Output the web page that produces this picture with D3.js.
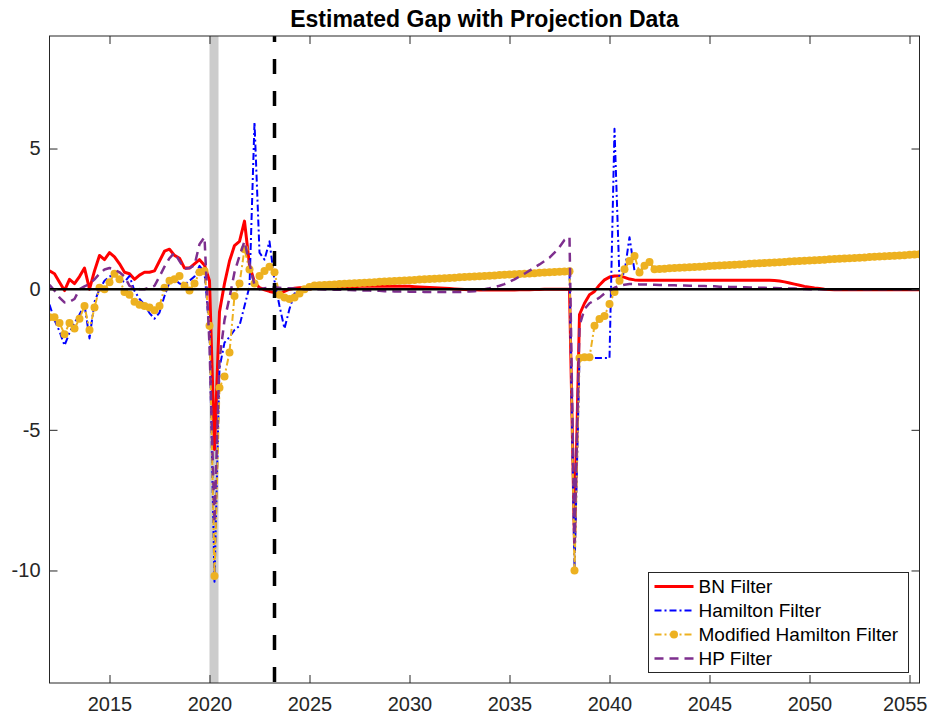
<!DOCTYPE html>
<html>
<head>
<meta charset="utf-8">
<script src="https://cdnjs.cloudflare.com/ajax/libs/d3/7.8.5/d3.min.js"></script>
<style>
  body { margin: 0; background: #fff; }
  svg { display: block; font-family: "Liberation Sans", Arial, sans-serif; }
</style>
</head>
<body>
<svg id="chart" width="929" height="714"></svg>
<script>
// quarterly series, first quarter = 2012Q1
const startYear = 2012;

const bnFilter = [
  0.65, 0.55, 0.25, -0.05, 0.35, 0.2, 0.45, 0.75, 0.0, 0.65,
  1.2, 1.05, 1.3, 1.15, 0.9, 0.6, 0.55, 0.35, 0.5, 0.6,
  0.6, 0.65, 1.0, 1.35, 1.42, 1.2, 1.1, 0.75, 0.75, 0.9,
  1.05, 0.85, 0.3, -5.7, -0.8, 0.2, 1.0, 1.55, 1.7, 2.42,
  0.85, 0.24, 0.05, -0.02, -0.08, -0.12, -0.15, -0.08, 0.0, 0.03,
  0.05, 0.05, 0.06, 0.06, 0.07, 0.07, 0.08, 0.08, 0.08, 0.09,
  0.09, 0.09, 0.1, 0.1, 0.1, 0.1, 0.1, 0.1, 0.1, 0.1,
  0.1, 0.1, 0.1, 0.09, 0.08, 0.07, 0.06, 0.05, 0.04, 0.03,
  0.02, 0.01, 0.0, -0.01, -0.02, -0.02, -0.03, -0.03, -0.03, -0.03,
  -0.03, -0.03, -0.03, -0.03, -0.02, -0.02, -0.02, -0.01, -0.01, 0.0,
  0.0, 0.0, 0.0, 0.0, 0.0, -9.0, -0.9, -0.5, -0.2, -0.08,
  0.15, 0.33, 0.43, 0.47, 0.47, 0.42, 0.36, 0.33, 0.32, 0.32,
  0.32, 0.32, 0.32, 0.32, 0.32, 0.32, 0.32, 0.32, 0.32, 0.32,
  0.32, 0.32, 0.32, 0.32, 0.32, 0.32, 0.32, 0.32, 0.32, 0.32,
  0.32, 0.32, 0.32, 0.32, 0.32, 0.31, 0.29, 0.26, 0.22, 0.18,
  0.14, 0.1, 0.07, 0.04, 0.02, 0.0, -0.01, -0.02, -0.02, -0.02,
  -0.02, -0.02, -0.02, -0.02, -0.02, -0.02, -0.02, -0.02, -0.02, -0.02,
  -0.02, -0.02, -0.02, -0.02, -0.02
];

const hamilton = [
  -0.55, -1.1, -1.5, -2.0, -1.55, -1.2, -0.9, -0.55, -1.75, -0.45,
  0.0, 0.3, 0.45, 0.5, 0.35, 0.25, 0.47, -0.06, -0.35, -0.55,
  -0.85, -1.05, -0.83, -0.24, 0.24, 0.35, 0.2, 0.15, 0.3, 0.45,
  0.83, 0.6, -1.5, -10.4, -2.8, -1.9, -1.7, -1.45, -1.3, -0.6,
  0.1, 5.93, 1.3, 1.05, 1.7, 0.3, -0.6, -1.4, -0.7, -0.15,
  -0.1, 0.0, 0.08, 0.13, 0.14, 0.15, 0.16, 0.17, 0.18, 0.19,
  0.2, 0.21, 0.22, 0.23, 0.24, 0.25, 0.26, 0.27, 0.28, 0.29,
  0.3, 0.31, 0.32, 0.33, 0.34, 0.35, 0.36, 0.37, 0.38, 0.39,
  0.4, 0.41, 0.42, 0.43, 0.44, 0.45, 0.46, 0.47, 0.48, 0.49,
  0.5, 0.51, 0.52, 0.53, 0.54, 0.55, 0.56, 0.57, 0.58, 0.59,
  0.6, 0.61, 0.62, 0.63, 0.64, -10.0, -2.45, -2.45, -2.45, -2.45,
  -2.45, -2.45, -2.45, 5.7, 0.35, 0.6, 1.85, 0.65, 0.59, 0.83,
  0.97, 0.71, 0.72, 0.73, 0.74, 0.75, 0.76, 0.77, 0.78, 0.79,
  0.8, 0.81, 0.82, 0.83, 0.84, 0.85, 0.86, 0.87, 0.88, 0.89,
  0.9, 0.91, 0.92, 0.93, 0.94, 0.95, 0.96, 0.97, 0.98, 0.99,
  1.0, 1.01, 1.02, 1.03, 1.04, 1.05, 1.06, 1.07, 1.08, 1.09,
  1.1, 1.11, 1.12, 1.13, 1.14, 1.15, 1.16, 1.17, 1.18, 1.19,
  1.2, 1.21, 1.22, 1.23, 1.24
];

const modHamilton = [
  -1.0, -1.0, -1.2, -1.6, -1.2, -1.4, -1.05, -0.6, -1.45, -0.65,
  0.05, 0.0, 0.25, 0.55, 0.35, -0.1, -0.2, -0.45, -0.55, -0.6,
  -0.65, -0.75, -0.6, 0.05, 0.3, 0.35, 0.47, 0.12, -0.05, 0.2,
  0.6, 0.65, -1.3, -10.2, -3.5, -3.1, -2.25, -0.24, 0.2, 1.42,
  0.7, 0.2, 0.47, 0.65, 0.8, 0.6, -0.2, -0.3, -0.35, -0.3,
  -0.15, 0.0, 0.08, 0.13, 0.14, 0.15, 0.16, 0.17, 0.18, 0.19,
  0.2, 0.21, 0.22, 0.23, 0.24, 0.25, 0.26, 0.27, 0.28, 0.29,
  0.3, 0.31, 0.32, 0.33, 0.34, 0.35, 0.36, 0.37, 0.38, 0.39,
  0.4, 0.41, 0.42, 0.43, 0.44, 0.45, 0.46, 0.47, 0.48, 0.49,
  0.5, 0.51, 0.52, 0.53, 0.54, 0.55, 0.56, 0.57, 0.58, 0.59,
  0.6, 0.61, 0.62, 0.63, 0.64, -10.0, -2.45, -2.42, -2.42, -1.3,
  -1.06, -0.95, -0.53, -0.1, 0.3, 0.71, 1.0, 1.18, 0.59, 0.83,
  0.97, 0.71, 0.72, 0.73, 0.74, 0.75, 0.76, 0.77, 0.78, 0.79,
  0.8, 0.81, 0.82, 0.83, 0.84, 0.85, 0.86, 0.87, 0.88, 0.89,
  0.9, 0.91, 0.92, 0.93, 0.94, 0.95, 0.96, 0.97, 0.98, 0.99,
  1.0, 1.01, 1.02, 1.03, 1.04, 1.05, 1.06, 1.07, 1.08, 1.09,
  1.1, 1.11, 1.12, 1.13, 1.14, 1.15, 1.16, 1.17, 1.18, 1.19,
  1.2, 1.21, 1.22, 1.23, 1.24
];

const hpFilter = [
  0.15, -0.05, -0.3, -0.47, -0.45, -0.35, 0.0, 0.1, 0.18, 0.35,
  0.55, 0.7, 0.75, 0.7, 0.6, 0.45, 0.12, 0.05, 0.0, 0.0,
  0.05, 0.12, 0.45, 0.8, 1.1, 1.3, 1.0, 0.72, 0.75, 0.85,
  1.6, 1.85, -2.0, -8.3, -2.5, -1.1, -0.3, 0.6, 1.18, 1.7,
  0.9, 0.15, 0.0, 0.03, 0.06, 0.06, 0.05, 0.04, 0.03, 0.02,
  0.01, 0.0, 0.0, 0.0, 0.0, -0.01, -0.01, -0.02, -0.02, -0.03,
  -0.03, -0.04, -0.04, -0.05, -0.05, -0.06, -0.06, -0.07, -0.07, -0.08,
  -0.08, -0.08, -0.09, -0.09, -0.09, -0.1, -0.1, -0.1, -0.1, -0.1,
  -0.1, -0.1, -0.1, -0.09, -0.08, -0.07, -0.05, 0.0, 0.03, 0.07,
  0.12, 0.18, 0.26, 0.35, 0.45, 0.55, 0.66, 0.77, 0.88, 1.0,
  1.12, 1.3, 1.5, 1.75, 1.85, -9.0, -1.3, -0.7, -0.5, -0.4,
  -0.3, -0.15, -0.05, 0.05, 0.12, 0.16, 0.18, 0.18, 0.17, 0.17,
  0.16, 0.16, 0.15, 0.15, 0.14, 0.14, 0.13, 0.13, 0.12, 0.12,
  0.11, 0.11, 0.1, 0.1, 0.09, 0.09, 0.08, 0.08, 0.07, 0.07,
  0.06, 0.06, 0.05, 0.05, 0.04, 0.04, 0.03, 0.03, 0.02, 0.02,
  0.01, 0.01, 0.0, 0.0, 0.0, 0.0, 0.0, 0.0, 0.0, 0.0,
  0.0, 0.0, 0.0, 0.0, 0.0, 0.0, 0.0, 0.0, 0.0, 0.0,
  0.0, 0.0, 0.0, 0.0, 0.0
];

const xTicks = [2015, 2020, 2025, 2030, 2035, 2040, 2045, 2050, 2055];
const yTicks = [5, 0, -5, -10];
const recession = [2020.0, 2020.45];
const projectionStart = 2023.25;

const seriesNames = ["BN Filter", "Hamilton Filter", "Modified Hamilton Filter", "HP Filter"];

const W = 929, H = 714;
const m = { left: 49.5, right: 9.5, top: 36, bottom: 31 };

const svg = d3.select("#chart");

const x = d3.scaleLinear().domain([2012, 2055.5]).range([m.left, W - m.right]);
const y = d3.scaleLinear().domain([-14, 9]).range([H - m.bottom, m.top]);

svg.append("defs").append("clipPath").attr("id", "plotclip")
  .append("rect")
  .attr("x", x.range()[0]).attr("y", m.top)
  .attr("width", x.range()[1] - x.range()[0])
  .attr("height", H - m.bottom - m.top);

const plot = svg.append("g").attr("clip-path", "url(#plotclip)");

// recession shading
plot.append("rect")
  .attr("x", x(recession[0])).attr("y", m.top)
  .attr("width", x(recession[1]) - x(recession[0]))
  .attr("height", H - m.bottom - m.top)
  .attr("fill", "#cccccc");

const toPts = arr => arr.map((v, i) => [startYear + i / 4, v]);
const line = d3.line().x(d => x(d[0])).y(d => y(d[1]));

const styles = [
  { data: bnFilter, color: "#ff0000", width: 3, dash: null },
  { data: hamilton, color: "#0000ff", width: 2, dash: "7,3,2,3" },
  { data: modHamilton, color: "#EDB120", width: 2, dash: "7,3,2,3", marker: true },
  { data: hpFilter, color: "#7E2F8E", width: 2.5, dash: "9,6" }
];

styles.forEach(s => {
  const pts = toPts(s.data);
  plot.append("path")
    .attr("d", line(pts))
    .attr("fill", "none")
    .attr("stroke", s.color)
    .attr("stroke-width", s.width)
    .attr("stroke-dasharray", s.dash)
    .attr("stroke-linejoin", "round");
  if (s.marker) {
    plot.append("g").selectAll("circle").data(pts).enter()
      .append("circle")
      .attr("cx", d => x(d[0])).attr("cy", d => y(d[1]))
      .attr("r", 4).attr("fill", s.color);
  }
});

// zero line
plot.append("line")
  .attr("x1", x.range()[0]).attr("x2", x.range()[1])
  .attr("y1", y(0)).attr("y2", y(0))
  .attr("stroke", "#000").attr("stroke-width", 2.5);

// projection start
plot.append("line")
  .attr("x1", x(projectionStart)).attr("x2", x(projectionStart))
  .attr("y1", m.top).attr("y2", H - m.bottom)
  .attr("stroke", "#000").attr("stroke-width", 3.5)
  .attr("stroke-dasharray", "15,17").attr("stroke-dashoffset", 9);

// axes box with inward ticks
const axisColor = "#262626";
const tickLen = 8;
svg.append("rect")
  .attr("x", x.range()[0]).attr("y", m.top)
  .attr("width", x.range()[1] - x.range()[0])
  .attr("height", H - m.bottom - m.top)
  .attr("fill", "none").attr("stroke", axisColor).attr("stroke-width", 1);

const fmt = d => String(d);
const xAxisB = d3.axisBottom(x).tickValues(xTicks).tickFormat(fmt)
  .tickSizeInner(-tickLen).tickSizeOuter(0).tickPadding(14);
const xAxisT = d3.axisTop(x).tickValues(xTicks).tickFormat("")
  .tickSizeInner(-tickLen).tickSizeOuter(0);
const yAxisL = d3.axisLeft(y).tickValues(yTicks).tickFormat(fmt)
  .tickSizeInner(-tickLen).tickSizeOuter(0).tickPadding(9);
const yAxisR = d3.axisRight(y).tickValues(yTicks).tickFormat("")
  .tickSizeInner(-tickLen).tickSizeOuter(0);

function styleAxis(g) {
  g.select(".domain").remove();
  g.selectAll("line").attr("stroke", axisColor);
  g.selectAll("text").attr("fill", axisColor).style("font-size", "20px")
    .style("font-family", "'Liberation Sans', Arial, sans-serif");
}

const gxb = svg.append("g").attr("transform", `translate(0,${H - m.bottom})`).call(xAxisB).call(styleAxis);
// keep the last year label inside the page
const lastTick = xTicks[xTicks.length - 1];
gxb.selectAll(".tick text").filter(d => d === lastTick)
  .attr("text-anchor", "end")
  .attr("x", (W - 2) - x(lastTick));
svg.append("g").attr("transform", `translate(0,${m.top})`).call(xAxisT).call(styleAxis);
svg.append("g").attr("transform", `translate(${x.range()[0]},0)`).call(yAxisL).call(styleAxis);
svg.append("g").attr("transform", `translate(${x.range()[1]},0)`).call(yAxisR).call(styleAxis);

// title
svg.append("text")
  .attr("x", (x.range()[0] + x.range()[1]) / 2).attr("y", 27)
  .attr("text-anchor", "middle")
  .style("font-size", "23px").style("font-weight", "bold")
  .attr("fill", "#000")
  .text("Estimated Gap with Projection Data");

// legend
const lg = svg.append("g").attr("transform", "translate(648.5,572.5)");
lg.append("rect").attr("width", 260).attr("height", 100)
  .attr("fill", "#fff").attr("stroke", axisColor).attr("stroke-width", 1);
styles.forEach((s, i) => {
  const cy = 14 + i * 24;
  lg.append("line")
    .attr("x1", 6).attr("x2", 45).attr("y1", cy).attr("y2", cy)
    .attr("stroke", s.color).attr("stroke-width", s.width)
    .attr("stroke-dasharray", s.dash);
  if (s.marker) {
    lg.append("circle").attr("cx", 25.5).attr("cy", cy).attr("r", 4).attr("fill", s.color);
  }
  lg.append("text")
    .attr("x", 50).attr("y", cy).attr("dy", "0.36em")
    .style("font-size", "19px").attr("fill", "#000")
    .text(seriesNames[i]);
});
</script>
</body>
</html>
